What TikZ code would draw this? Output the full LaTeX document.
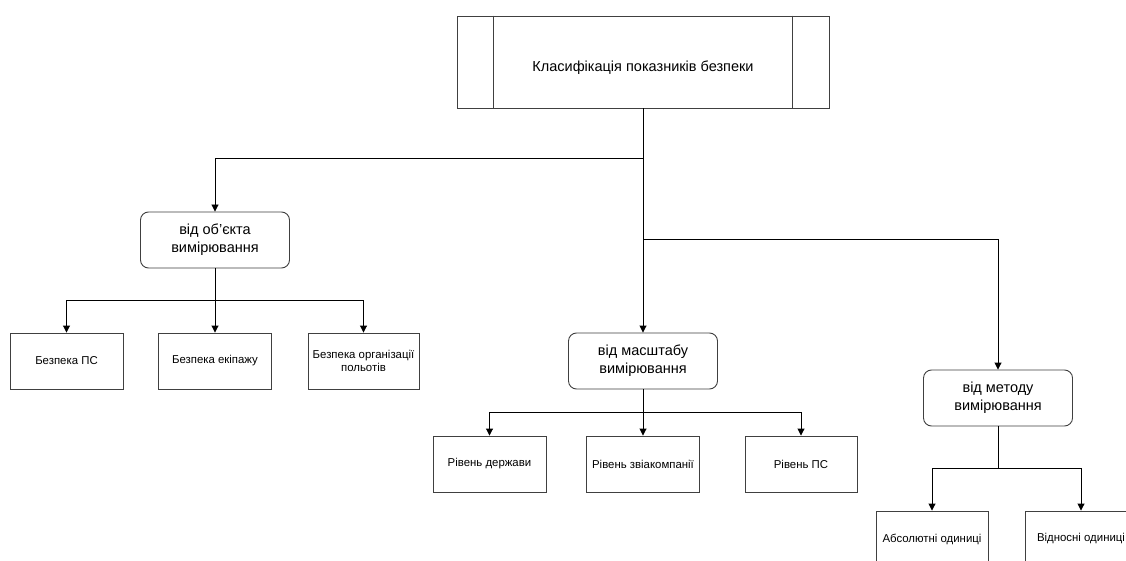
\documentclass[tikz,border=0pt]{standalone}
\usepackage{fontspec}
\setmainfont{Liberation Sans}
\usetikzlibrary{arrows.meta}
\begin{document}
\begin{tikzpicture}[x=1pt,y=-1pt,
  box/.style={draw=black!75, line width=0.9pt, fill=white, align=center, inner sep=2pt},
  leaf/.style={box, minimum width=112pt, minimum height=56pt, font=\fontsize{11.4}{13.5}\selectfont},
  group/.style={box, rounded corners=8pt, minimum width=149pt, minimum height=56pt, font=\fontsize{14.5}{18}\selectfont},
  link/.style={draw=black, line width=0.9pt, -{Triangle[length=7pt,width=7pt]}},
  plain/.style={draw=black, line width=0.9pt}]
\useasboundingbox (0,0) rectangle (1126,561);
\clip (0,0) rectangle (1126,561);
\fill[white] (0,0) rectangle (1126,561);

% root process box
\node[box, minimum width=372pt, minimum height=92pt] (root) at (643,62) {};
\node[font=\fontsize{14.5}{17}\selectfont] (title) at (643,68) {Класифікація показників безпеки};
\draw[black!75, line width=0.9pt] ([xshift=37pt]root.north west) -- ([xshift=37pt]root.south west);
\draw[black!75, line width=0.9pt] ([xshift=-37pt]root.north east) -- ([xshift=-37pt]root.south east);

% groups
\node[group] (obj) at (215,240) {від об'єкта\\вимірювання};
\node[group] (scl) at (643,361) {від масштабу\\вимірювання};
\node[group] (mth) at (998,398) {від методу\\вимірювання};

% leaves
\node[leaf, minimum width=113pt] (b1) at (66.5,361) {Безпека ПС};
\node[leaf, minimum width=113pt] (b2) at (215,361) {Безпека екіпажу};
\node[leaf, minimum width=111pt] (b3) at (363.5,361) {Безпека організації\\польотів};

\node[leaf, minimum width=113pt] (r1) at (489.5,464) {Рівень держави};
\node[leaf, minimum width=113pt] (r2) at (643,464) {Рівень звіакомпанії};
\node[leaf] (r3) at (801,464) {Рівень ПС};

\node[leaf] (a1) at (932,539) {Абсолютні одиниці};
\node[leaf] (a2) at (1081,539) {Відносні одиниці};

% junction points
\coordinate (j1) at (643,158);
\coordinate (j2) at (643,239);
\coordinate (j3) at (215,300);
\coordinate (j4) at (643,412);
\coordinate (j5) at (998,468);

% root branches
\draw[plain] (root.south) -- (j1);
\draw[link] (j1) -| (obj.north);
\draw[link] (j1) -- (scl.north);
\draw[link] (j2) -| (mth.north);

% object branch
\draw[plain] (obj.south) -- (j3);
\draw[link] (j3) -| (b1.north);
\draw[link] (j3) -- (b2.north);
\draw[link] (j3) -| (b3.north);

% scale branch
\draw[plain] (scl.south) -- (j4);
\draw[link] (j4) -| (r1.north);
\draw[link] (j4) -- (r2.north);
\draw[link] (j4) -| (r3.north);

% method branch
\draw[plain] (mth.south) -- (j5);
\draw[link] (j5) -| (a1.north);
\draw[link] (j5) -| (a2.north);
\end{tikzpicture}
\end{document}
